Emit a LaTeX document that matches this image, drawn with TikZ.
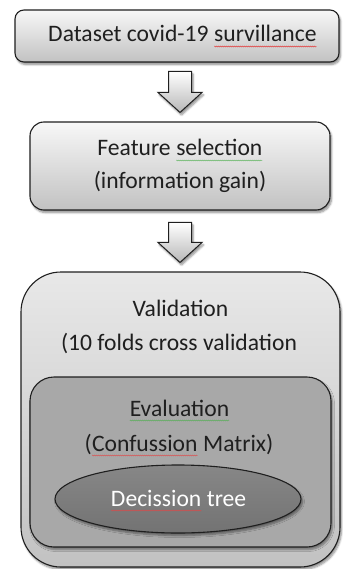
\documentclass[tikz,border=0pt]{standalone}
\usepackage{fontspec}
\setmainfont{Carlito}
\usetikzlibrary{shadows.blur,decorations.pathmorphing,shapes.geometric,calc}
\newcommand\squig[2]{\tikz[baseline=(sqw.base)]{\node[inner sep=0pt,outer sep=0pt,anchor=base] (sqw) {#2};\draw[#1,line width=0.4pt,decorate,decoration={snake,amplitude=0.5pt,segment length=2pt}] ([yshift=-4.5pt]sqw.base west) -- ([yshift=-4.5pt]sqw.base east);}}
\tikzset{
  shad/.style={blur shadow={shadow xshift=1.5pt,shadow yshift=-2.5pt,shadow blur steps=6,shadow opacity=45,shadow blur radius=2pt}},
  box/.style={shad,draw=black!88,line width=1.1pt,rectangle,inner sep=0pt},
  txt/.style={font=\fontsize{23.6}{33}\selectfont,text=black!88,anchor=base,inner sep=0pt},
  blockarrow/.style={shad,draw=black!88,line width=1pt,top color=white,bottom color=black!28,line join=miter},
}
\definecolor{sqred}{RGB}{225,70,70}
\definecolor{sqgreen}{RGB}{80,175,80}
\begin{document}
\begin{tikzpicture}[x=1pt,y=1pt]
\useasboundingbox (0,0) rectangle (342,-569);
% outer validation box
\node[box,rounded corners=40pt,minimum width=319pt,minimum height=295pt,top color=black!9,bottom color=black!24] (b3) at (180.5,-419.5) {};
\node[box,rounded corners=24pt,minimum width=301pt,minimum height=170pt,fill=black!34] (b4) at (180.5,-462) {};
\node[box,ellipse,minimum width=246pt,minimum height=68pt,top color=black!47,bottom color=black!55] (b5) at (178,-499) {};
% top boxes
\node[box,rounded corners=9pt,minimum width=324pt,minimum height=52pt,top color=black!3,bottom color=black!24] (b1) at (177,-36) {};
\node[box,rounded corners=14pt,minimum width=300pt,minimum height=88pt,top color=black!3,bottom color=black!24] (b2) at (180,-166) {};
% texts
\node[txt] (t1) at (182.5,-42) {Dataset covid-19 \squig{sqred}{survillance}};
\node[txt] (t2a) at (180,-156) {Feature \squig{sqgreen}{selection}};
\node[txt] (t2b) at (180,-189) {(information gain)};
\node[txt] (t3a) at (180.5,-316) {Validation};
\node[txt] (t3b) at (179,-350) {(10 folds cross validation};
\node[txt] (t4a) at (179.5,-416) {\squig{sqgreen}{Evaluation}};
\node[txt] (t4b) at (179,-451) {(\squig{sqred}{Confussion} Matrix)};
\node[txt,text=white] (t5) at (178.5,-506) {\squig{sqred}{Decission} tree};
% block arrows
\coordinate (a1) at ($(b2.north)+(0,9)$);
\coordinate (a2) at ($(b3.north)+(-0.5,9)$);
\draw[blockarrow] (a1) -- ++(22,20) -- ++(-10.5,0) -- ++(0,21) -- ++(-23,0) -- ++(0,-21) -- ++(-10.5,0) -- cycle;
\draw[blockarrow] (a2) -- ++(22,20) -- ++(-10.5,0) -- ++(0,20) -- ++(-23,0) -- ++(0,-20) -- ++(-10.5,0) -- cycle;
\end{tikzpicture}
\end{document}
